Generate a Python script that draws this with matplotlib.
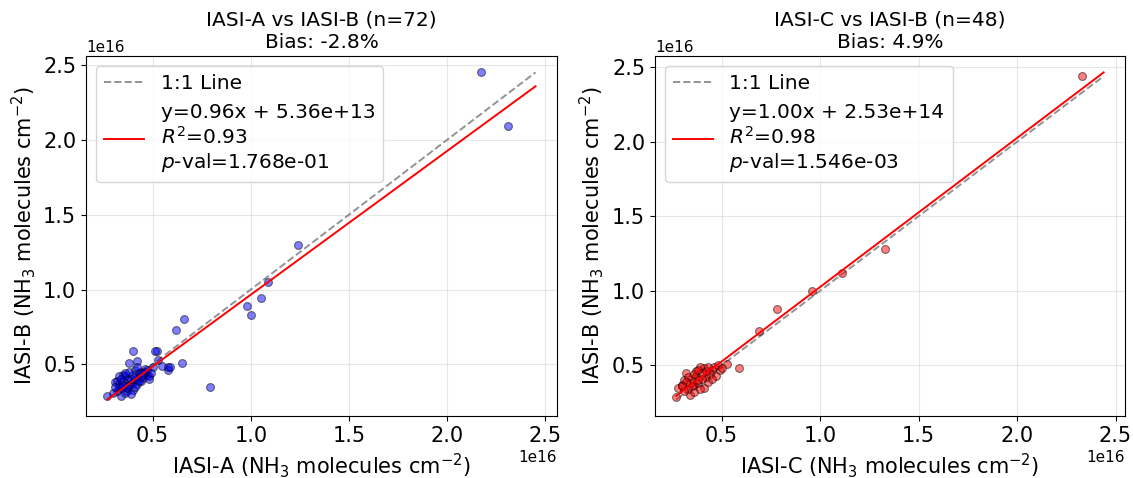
import numpy as np
import matplotlib.pyplot as plt
from matplotlib.lines import Line2D

# IASI-A vs IASI-B (values in 1e16 molecules cm-2)
a_x = [2.17, 2.31, 1.24, 1.09, 1.05, 0.98, 1.00, 0.66, 0.62, 0.79, 0.65, 0.52,
       0.40, 0.58, 0.58, 0.59, 0.38, 0.42, 0.51, 0.53, 0.50, 0.55, 0.46, 0.44,
       0.41, 0.35, 0.32, 0.33, 0.32, 0.34, 0.37, 0.39, 0.42, 0.45, 0.47, 0.37,
       0.31, 0.36, 0.40, 0.30, 0.27, 0.33, 0.35, 0.36, 0.38, 0.40, 0.41, 0.43,
       0.44, 0.46, 0.48, 0.34, 0.36, 0.39, 0.42, 0.45, 0.33, 0.37, 0.40, 0.43,
       0.35, 0.38, 0.41, 0.44, 0.47, 0.49, 0.31, 0.34, 0.39, 0.36, 0.42, 0.48]
a_y = [2.45, 2.09, 1.30, 1.05, 0.94, 0.89, 0.83, 0.80, 0.73, 0.35, 0.51, 0.59,
       0.59, 0.48, 0.46, 0.48, 0.51, 0.52, 0.59, 0.53, 0.48, 0.49, 0.47, 0.45,
       0.46, 0.43, 0.39, 0.35, 0.32, 0.29, 0.32, 0.37, 0.40, 0.41, 0.43, 0.40,
       0.38, 0.35, 0.33, 0.31, 0.29, 0.37, 0.39, 0.42, 0.36, 0.38, 0.41, 0.44,
       0.39, 0.45, 0.42, 0.34, 0.31, 0.40, 0.37, 0.44, 0.42, 0.34, 0.43, 0.39,
       0.36, 0.45, 0.35, 0.42, 0.46, 0.44, 0.35, 0.40, 0.30, 0.44, 0.48, 0.40]

# IASI-C vs IASI-B
c_x = [2.33, 1.33, 1.11, 0.96, 0.78, 0.69, 0.59, 0.53, 0.49, 0.45, 0.41, 0.39,
       0.32, 0.27, 0.28, 0.34, 0.41, 0.43, 0.36, 0.30, 0.31, 0.33, 0.35, 0.37,
       0.38, 0.40, 0.42, 0.44, 0.46, 0.47, 0.34, 0.36, 0.38, 0.31, 0.33, 0.35,
       0.37, 0.39, 0.42, 0.45, 0.48, 0.32, 0.36, 0.40, 0.43, 0.30, 0.38, 0.50]
c_y = [2.44, 1.28, 1.12, 1.00, 0.88, 0.73, 0.48, 0.51, 0.47, 0.47, 0.48, 0.49,
       0.45, 0.29, 0.35, 0.30, 0.35, 0.39, 0.37, 0.37, 0.40, 0.34, 0.41, 0.43,
       0.38, 0.45, 0.42, 0.44, 0.49, 0.43, 0.38, 0.32, 0.40, 0.33, 0.42, 0.36,
       0.46, 0.34, 0.46, 0.41, 0.50, 0.39, 0.44, 0.41, 0.49, 0.36, 0.47, 0.48]

panels = [
    (a_x, a_y, "blue", "IASI-A vs IASI-B (n=72)\nBias: -2.8%", "IASI-A",
     0.96, 5.36e13, "y=0.96x + 5.36e+13\n$R^2$=0.93\n$p$-val=1.768e-01"),
    (c_x, c_y, "red", "IASI-C vs IASI-B (n=48)\nBias: 4.9%", "IASI-C",
     1.00, 2.53e14, "y=1.00x + 2.53e+14\n$R^2$=0.98\n$p$-val=1.546e-03"),
]

fig = plt.figure(figsize=(11.33, 4.78), dpi=100)
ax1 = fig.add_axes([0.0759, 0.1297, 0.4157, 0.7531])
ax2 = fig.add_axes([0.578, 0.1297, 0.415, 0.7531])

for ax, (xs, ys, col, title, name, slope, icpt, lab) in zip([ax1, ax2], panels):
    x = np.array(xs) * 1e16
    y = np.array(ys) * 1e16
    ax.scatter(x, y, c=col, alpha=0.5, edgecolors="k", linewidths=0.8, s=32, zorder=3)
    lo = min(x.min(), y.min())
    hi = max(x.max(), y.max())
    line = np.array([lo, hi])
    ax.plot(line, line, "--", color="gray", alpha=0.85, lw=1.4, zorder=2)
    ax.plot(line, slope * line + icpt, color="red", lw=1.4, zorder=4)
    ax.set_title(title, fontsize=14.5)
    ax.set_xlabel(name + " (NH$_3$ molecules cm$^{-2}$)", fontsize=15)
    ax.set_ylabel("IASI-B (NH$_3$ molecules cm$^{-2}$)", fontsize=15)
    ax.tick_params(labelsize=15)
    ax.xaxis.get_offset_text().set_fontsize(11)
    ax.yaxis.get_offset_text().set_fontsize(11)
    ax.grid(True, alpha=0.3)
    handles = [Line2D([], [], ls="--", color="gray", alpha=0.85, lw=1.4),
               Line2D([], [], color="red", lw=1.4)]
    ax.legend(handles, ["1:1 Line", lab], loc="upper left", fontsize=14.5)

fig.savefig("out.png", dpi=100)
